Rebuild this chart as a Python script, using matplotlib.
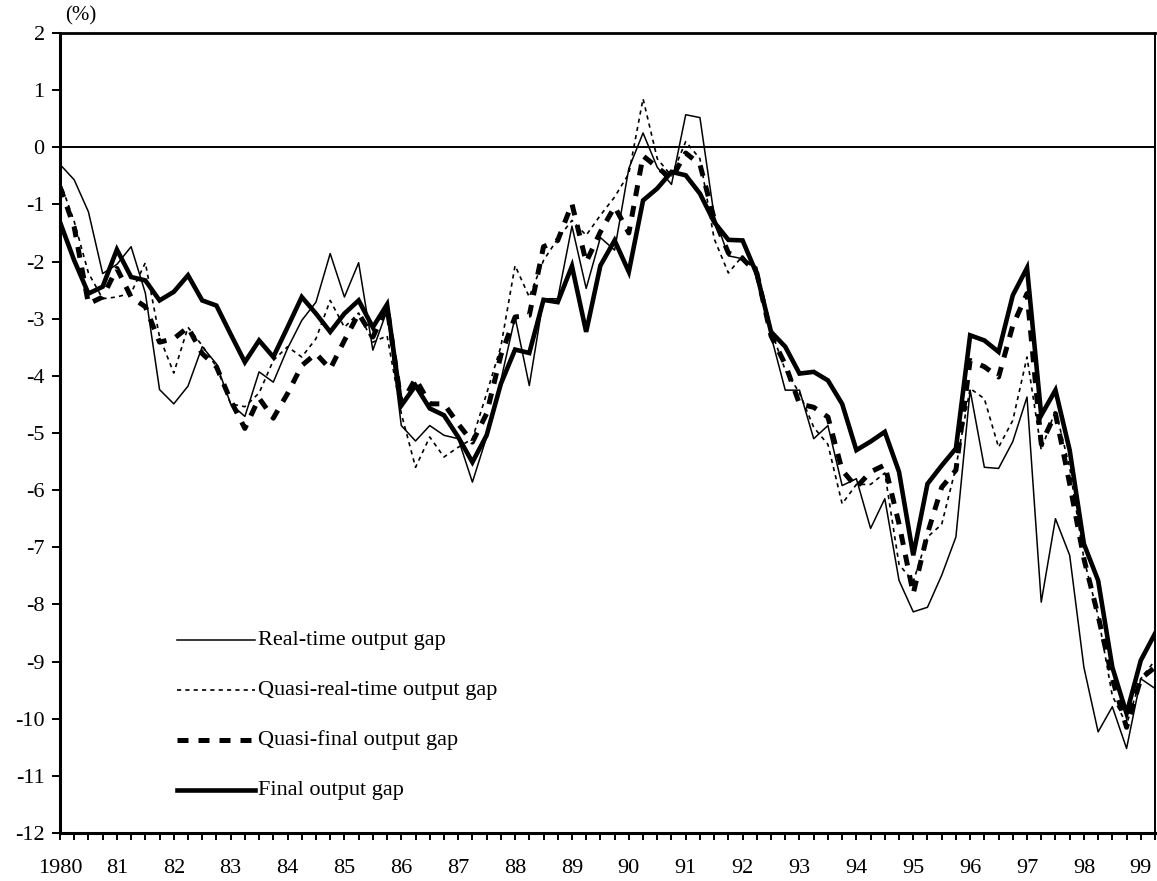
import matplotlib
matplotlib.use("Agg")
import matplotlib.pyplot as plt
from matplotlib.lines import Line2D

plt.rcParams['font.family'] = ['Liberation Serif', 'DejaVu Serif']

year_labels = ["1980", "81", "82", "83", "84", "85", "86", "87", "88", "89",
               "90", "91", "92", "93", "94", "95", "96", "97", "98", "99"]

real_time = [-0.30, -0.57, -1.13, -2.21, -2.05, -1.74, -2.55, -4.24, -4.49, -4.18,
             -3.49, -3.79, -4.49, -4.71, -3.93, -4.11, -3.52, -3.03, -2.71, -1.86,
             -2.62, -2.02, -3.55, -2.85, -4.87, -5.14, -4.87, -5.04, -5.10, -5.86,
             -5.07, -4.08, -2.97, -4.17, -2.65, -2.65, -1.38, -2.47, -1.58, -1.80,
             -0.37, 0.25, -0.35, -0.65, 0.57, 0.52, -1.20, -1.90, -1.95, -2.10,
             -3.30, -4.25, -4.25, -5.10, -4.87, -5.92, -5.80, -6.67, -6.15, -7.58,
             -8.13, -8.05, -7.49, -6.82, -4.25, -5.60, -5.62, -5.15, -4.37, -7.96,
             -6.50, -7.14, -9.10, -10.23, -9.79, -10.52, -9.30, -9.47]

quasi_real_time = [-0.60, -1.30, -2.20, -2.65, -2.62, -2.55, -2.02, -3.32, -3.95, -3.15,
                   -3.47, -3.84, -4.49, -4.54, -4.30, -3.73, -3.49, -3.67, -3.35, -2.68,
                   -3.15, -2.90, -3.41, -3.30, -4.66, -5.60, -5.07, -5.42, -5.25, -5.10,
                   -4.31, -3.49, -2.07, -2.62, -1.98, -1.60, -1.28, -1.54, -1.19, -0.87,
                   -0.46, 0.85, -0.20, -0.50, 0.10, -0.20, -1.60, -2.20, -1.90, -2.20,
                   -3.20, -3.90, -4.30, -4.90, -5.20, -6.24, -5.90, -5.90, -5.70, -7.30,
                   -7.60, -6.82, -6.60, -5.60, -4.22, -4.40, -5.25, -4.78, -3.67, -5.30,
                   -4.60, -5.60, -7.20, -8.20, -9.60, -10.10, -9.30, -8.98]

quasi_final = [-0.69, -1.40, -2.74, -2.62, -2.12, -2.62, -2.79, -3.41, -3.35, -3.15,
               -3.61, -3.84, -4.43, -4.92, -4.39, -4.74, -4.31, -3.82, -3.61, -3.88,
               -3.38, -2.91, -3.32, -2.80, -4.49, -4.05, -4.49, -4.49, -4.84, -5.16,
               -4.66, -3.64, -2.97, -2.94, -1.74, -1.63, -0.99, -2.01, -1.48, -1.04,
               -1.50, -0.15, -0.35, -0.55, -0.10, -0.30, -1.25, -1.85, -1.95, -2.20,
               -3.30, -3.80, -4.49, -4.55, -4.72, -5.65, -5.95, -5.68, -5.56, -6.59,
               -7.81, -6.76, -5.95, -5.65, -3.73, -3.84, -4.02, -3.12, -2.56, -5.19,
               -4.66, -5.89, -7.20, -8.20, -9.30, -10.15, -9.30, -9.10]

final = [-1.31, -1.98, -2.56, -2.44, -1.79, -2.27, -2.33, -2.68, -2.53, -2.24,
         -2.68, -2.77, -3.27, -3.76, -3.38, -3.67, -3.15, -2.62, -2.91, -3.23,
         -2.91, -2.68, -3.15, -2.75, -4.52, -4.17, -4.57, -4.69, -5.07, -5.51,
         -5.04, -4.14, -3.54, -3.60, -2.67, -2.71, -2.08, -3.23, -2.07, -1.63,
         -2.18, -0.93, -0.72, -0.43, -0.49, -0.81, -1.31, -1.62, -1.63, -2.22,
         -3.23, -3.49, -3.96, -3.93, -4.08, -4.49, -5.30, -5.15, -4.98, -5.68,
         -7.14, -5.89, -5.57, -5.27, -3.29, -3.38, -3.58, -2.59, -2.11, -4.69,
         -4.25, -5.30, -6.94, -7.58, -9.10, -9.91, -8.98, -8.51]

series_labels = ["Real-time output gap", "Quasi-real-time output gap",
                 "Quasi-final output gap", "Final output gap"]

n = len(final)
x = list(range(n))

fig = plt.figure(figsize=(11.57, 8.81), dpi=100)
ax = fig.add_axes([60/1157, 1-833/881, 1095/1157, 800/881])

styles = [
    dict(color='black', lw=1.1, ls='-'),
    dict(color='black', lw=1.2, ls=(0, (2.5, 2.5))),
    dict(color='black', lw=3.6, ls=(0, (2.2, 2.0))),
    dict(color='black', lw=3.3, ls='-', solid_joinstyle='miter'),
]
data = [real_time, quasi_real_time, quasi_final, final]
for d, st in zip(data, styles):
    ax.plot(x, d, **st)

ax.axhline(0, color='black', lw=1.4, zorder=1)

ax.set_xlim(0, n - 1)
ax.set_ylim(-12, 2)
ax.set_yticks(range(-12, 3))
ax.set_yticklabels([str(v) if v >= 0 else "-" + str(-v) for v in range(-12, 3)])
ax.set_xticks(x)
lbls = []
for i in x:
    if i % 4 == 0 and i // 4 < len(year_labels):
        lbls.append(year_labels[i // 4])
    else:
        lbls.append("")
ax.set_xticklabels(lbls)
ax.tick_params(axis='x', direction='out', length=5, width=1.4, pad=14, labelsize=16)
ax.tick_params(axis='y', direction='out', length=6, width=1.4, pad=5, labelsize=16)
for side, w in [('left', 2.2), ('bottom', 2.2), ('top', 2.0), ('right', 1.4)]:
    ax.spines[side].set_linewidth(w)
    ax.spines[side].set_color('black')

ax.text(65/1157, 1-16/881, "(%)", transform=fig.transFigure, fontsize=15,
        ha='left', va='center')

# legend drawn inside the axes
x0 = (177-60)/1095
x1 = (255-60)/1095
xt = (258-60)/1095
for k, (st, lab) in enumerate(zip(styles, series_labels)):
    yk = (833 - (640 + 50*k)) / 800
    ax.add_line(Line2D([x0, x1], [yk, yk], transform=ax.transAxes, **st))
    ax.text(xt, yk, lab, transform=ax.transAxes, fontsize=16, ha='left', va='center')

fig.savefig("out.png", dpi=100)
